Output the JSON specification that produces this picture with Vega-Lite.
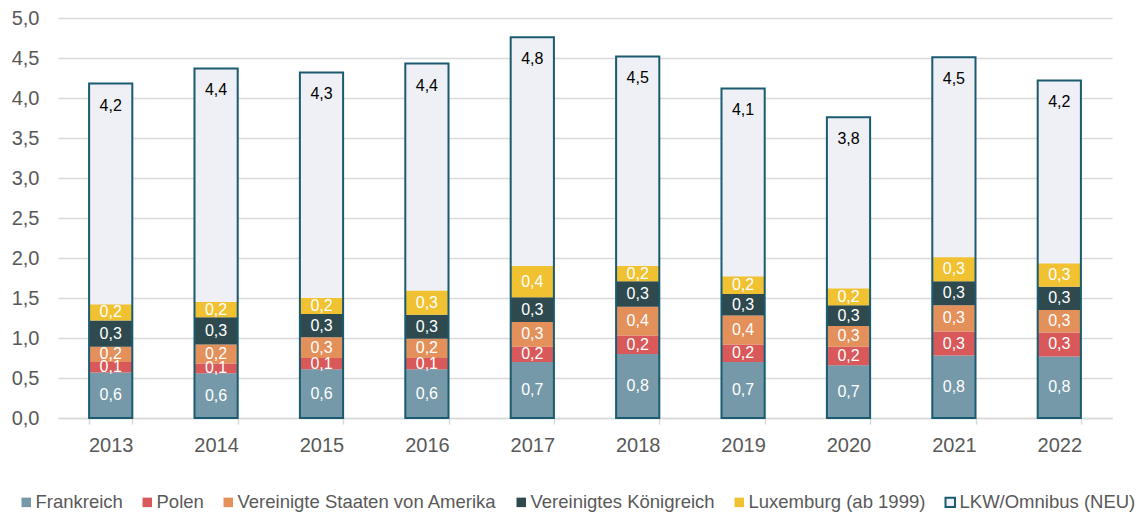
{
  "$schema": "https://vega.github.io/schema/vega-lite/v6.json",
  "width": 1054,
  "height": 400,
  "autosize": "none",
  "padding": {"left": 58, "top": 18, "right": 29, "bottom": 98},
  "background": "white",
  "config": {
    "font": "Liberation Sans",
    "view": {"stroke": null},
    "locale": {"number": {"decimal": ",", "thousands": ".", "grouping": [3], "currency": ["", " €"]}},
    "axisY": {
      "title": null,
      "values": [0, 0.5, 1, 1.5, 2, 2.5, 3, 3.5, 4, 4.5, 5],
      "format": ".1f",
      "domain": false,
      "ticks": false,
      "tickSize": 0,
      "labelPadding": 19,
      "labelFontSize": 20,
      "labelColor": "#595959",
      "gridColor": "#d9d9d9",
      "gridWidth": 1.5
    },
    "legend": {
      "orient": "none",
      "legendX": -41,
      "legendY": 475,
      "direction": "horizontal",
      "title": null,
      "symbolType": "square",
      "symbolSize": 90,
      "symbolStrokeWidth": 2,
      "labelFontSize": 18.5,
      "labelColor": "#595959",
      "labelLimit": 500,
      "columnPadding": 15,
      "labelOffset": 0,
      "padding": 0
    }
  },
  "data": {
    "values": [
      {"year": "2013", "series": "Frankreich", "value": 0.57},
      {"year": "2013", "series": "Polen", "value": 0.13},
      {"year": "2013", "series": "Vereinigte Staaten von Amerika", "value": 0.19},
      {"year": "2013", "series": "Vereinigtes Königreich", "value": 0.33},
      {"year": "2013", "series": "Luxemburg (ab 1999)", "value": 0.20},
      {"year": "2013", "series": "LKW/Omnibus (NEU)", "value": 4.18},
      {"year": "2014", "series": "Frankreich", "value": 0.56},
      {"year": "2014", "series": "Polen", "value": 0.12},
      {"year": "2014", "series": "Vereinigte Staaten von Amerika", "value": 0.24},
      {"year": "2014", "series": "Vereinigtes Königreich", "value": 0.34},
      {"year": "2014", "series": "Luxemburg (ab 1999)", "value": 0.19},
      {"year": "2014", "series": "LKW/Omnibus (NEU)", "value": 4.37},
      {"year": "2015", "series": "Frankreich", "value": 0.61},
      {"year": "2015", "series": "Polen", "value": 0.14},
      {"year": "2015", "series": "Vereinigte Staaten von Amerika", "value": 0.26},
      {"year": "2015", "series": "Vereinigtes Königreich", "value": 0.29},
      {"year": "2015", "series": "Luxemburg (ab 1999)", "value": 0.20},
      {"year": "2015", "series": "LKW/Omnibus (NEU)", "value": 4.32},
      {"year": "2016", "series": "Frankreich", "value": 0.61},
      {"year": "2016", "series": "Polen", "value": 0.14},
      {"year": "2016", "series": "Vereinigte Staaten von Amerika", "value": 0.24},
      {"year": "2016", "series": "Vereinigtes Königreich", "value": 0.30},
      {"year": "2016", "series": "Luxemburg (ab 1999)", "value": 0.30},
      {"year": "2016", "series": "LKW/Omnibus (NEU)", "value": 4.43},
      {"year": "2017", "series": "Frankreich", "value": 0.70},
      {"year": "2017", "series": "Polen", "value": 0.19},
      {"year": "2017", "series": "Vereinigte Staaten von Amerika", "value": 0.31},
      {"year": "2017", "series": "Vereinigtes Königreich", "value": 0.31},
      {"year": "2017", "series": "Luxemburg (ab 1999)", "value": 0.39},
      {"year": "2017", "series": "LKW/Omnibus (NEU)", "value": 4.76},
      {"year": "2018", "series": "Frankreich", "value": 0.80},
      {"year": "2018", "series": "Polen", "value": 0.23},
      {"year": "2018", "series": "Vereinigte Staaten von Amerika", "value": 0.36},
      {"year": "2018", "series": "Vereinigtes Königreich", "value": 0.32},
      {"year": "2018", "series": "Luxemburg (ab 1999)", "value": 0.19},
      {"year": "2018", "series": "LKW/Omnibus (NEU)", "value": 4.52},
      {"year": "2019", "series": "Frankreich", "value": 0.70},
      {"year": "2019", "series": "Polen", "value": 0.22},
      {"year": "2019", "series": "Vereinigte Staaten von Amerika", "value": 0.36},
      {"year": "2019", "series": "Vereinigtes Königreich", "value": 0.27},
      {"year": "2019", "series": "Luxemburg (ab 1999)", "value": 0.22},
      {"year": "2019", "series": "LKW/Omnibus (NEU)", "value": 4.12},
      {"year": "2020", "series": "Frankreich", "value": 0.66},
      {"year": "2020", "series": "Polen", "value": 0.23},
      {"year": "2020", "series": "Vereinigte Staaten von Amerika", "value": 0.26},
      {"year": "2020", "series": "Vereinigtes Königreich", "value": 0.26},
      {"year": "2020", "series": "Luxemburg (ab 1999)", "value": 0.21},
      {"year": "2020", "series": "LKW/Omnibus (NEU)", "value": 3.76},
      {"year": "2021", "series": "Frankreich", "value": 0.78},
      {"year": "2021", "series": "Polen", "value": 0.30},
      {"year": "2021", "series": "Vereinigte Staaten von Amerika", "value": 0.33},
      {"year": "2021", "series": "Vereinigtes Königreich", "value": 0.30},
      {"year": "2021", "series": "Luxemburg (ab 1999)", "value": 0.30},
      {"year": "2021", "series": "LKW/Omnibus (NEU)", "value": 4.51},
      {"year": "2022", "series": "Frankreich", "value": 0.77},
      {"year": "2022", "series": "Polen", "value": 0.30},
      {"year": "2022", "series": "Vereinigte Staaten von Amerika", "value": 0.28},
      {"year": "2022", "series": "Vereinigtes Königreich", "value": 0.29},
      {"year": "2022", "series": "Luxemburg (ab 1999)", "value": 0.29},
      {"year": "2022", "series": "LKW/Omnibus (NEU)", "value": 4.22}
    ]
  },
  "encoding": {
    "x": {
      "field": "year",
      "type": "nominal",
      "scale": {"paddingInner": 0.59, "paddingOuter": 0.295},
      "axis": {
        "title": null,
        "labelAngle": 0,
        "tickBand": "extent",
        "tickSize": 6,
        "tickColor": "#d9d9d9",
        "tickWidth": 1.5,
        "domainColor": "#d9d9d9",
        "domainWidth": 1.5,
        "labelFontSize": 20,
        "labelColor": "#595959",
        "labelPadding": 11,
        "grid": false
      }
    }
  },
  "layer": [
    {
      "transform": [{"filter": "datum.series === 'LKW/Omnibus (NEU)'"}],
      "mark": {"type": "bar"},
      "encoding": {
        "y": {
          "field": "value",
          "type": "quantitative",
          "scale": {"domain": [0, 5], "nice": false}
        },
        "fill": {
          "field": "series",
          "type": "nominal",
          "scale": {
            "domain": ["Frankreich", "Polen", "Vereinigte Staaten von Amerika", "Vereinigtes Königreich", "Luxemburg (ab 1999)", "LKW/Omnibus (NEU)"],
            "range": ["#7599a8", "#d9585a", "#e3905b", "#2e4a4f", "#f0c232", "#eef0f5"]
          },
          "legend": {}
        }
      }
    },
    {
      "transform": [
        {"filter": "datum.series !== 'LKW/Omnibus (NEU)'"},
        {"calculate": "indexof(['Frankreich', 'Polen', 'Vereinigte Staaten von Amerika', 'Vereinigtes Königreich', 'Luxemburg (ab 1999)'], datum.series)", "as": "ord"},
        {"stack": "value", "groupby": ["year"], "sort": [{"field": "ord", "order": "ascending"}], "as": ["v0", "v1"]},
        {"calculate": "(datum.v0 + datum.v1) / 2", "as": "mid"}
      ],
      "layer": [
        {
          "mark": {"type": "bar"},
          "encoding": {
            "y": {"field": "v0", "type": "quantitative"},
            "y2": {"field": "v1"},
            "fill": {"field": "series", "type": "nominal"}
          }
        },
        {
          "mark": {"type": "text", "color": "white", "fontSize": 16, "baseline": "middle"},
          "encoding": {
            "y": {"field": "mid", "type": "quantitative"},
            "text": {"field": "value", "type": "quantitative", "format": ".1f"}
          }
        }
      ]
    },
    {
      "transform": [{"filter": "datum.series === 'LKW/Omnibus (NEU)'"}],
      "layer": [
        {
          "mark": {"type": "bar", "fill": "transparent", "strokeWidth": 2},
          "encoding": {
            "y": {"field": "value", "type": "quantitative"},
            "stroke": {
              "field": "series",
              "type": "nominal",
              "scale": {
                "domain": ["Frankreich", "Polen", "Vereinigte Staaten von Amerika", "Vereinigtes Königreich", "Luxemburg (ab 1999)", "LKW/Omnibus (NEU)"],
                "range": ["transparent", "transparent", "transparent", "transparent", "transparent", "#1a5b6f"]
              },
              "legend": {}
            }
          }
        },
        {
          "mark": {"type": "text", "color": "black", "fontSize": 16, "baseline": "middle", "dy": 22},
          "encoding": {
            "y": {"field": "value", "type": "quantitative"},
            "text": {"field": "value", "type": "quantitative", "format": ".1f"}
          }
        }
      ]
    }
  ]
}
